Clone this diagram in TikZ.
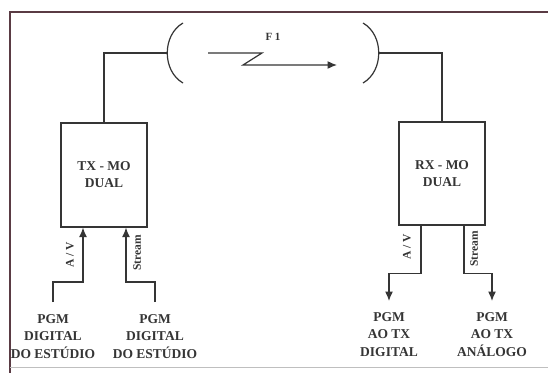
\documentclass[tikz,border=0pt]{standalone}
\usepackage{fontspec}
\setmainfont{Liberation Serif}
\usetikzlibrary{arrows.meta}
\definecolor{ink}{HTML}{353535}
\definecolor{framec}{HTML}{5A3B44}
\begin{document}
\begin{tikzpicture}[x=1pt,y=-1pt,
  line/.style={draw=ink,line width=1.2pt},
  arr/.style={line,-{Latex[length=9.5pt,width=8pt]}},
  unit/.style={draw=ink,line width=1.2pt,fill=white,font=\fontsize{13.5}{17}\selectfont\bfseries,text=ink,align=center,inner sep=0pt},
  lbl/.style={font=\fontsize{13.5}{17.5}\selectfont\bfseries,text=ink,align=center,inner sep=0pt},
  tag/.style={font=\fontsize{11.5}{13}\selectfont\bfseries,text=ink,rotate=90,inner sep=0pt},
]
\useasboundingbox[fill=white] (0,0) rectangle (548,373);
% frame
\draw[framec,line width=1.4pt] (548,12) -- (10,12) -- (10,373);
\draw[black!25,line width=0.8pt] (10,367) -- (548,367);

% units
\node[unit,minimum width=86pt,minimum height=104pt] (tx) at (104,175) {TX - MO\\DUAL};
\node[unit,minimum width=86pt,minimum height=103pt] (rx) at (442,173.5) {RX - MO\\DUAL};

% radio link brackets
\coordinate (lp) at (167.3,53);
\coordinate (rp) at (378.8,53);
\draw[line] (183,23) .. controls (162,35) and (162,71) .. (183,83);
\draw[line] (363,23) .. controls (384,35) and (384,71) .. (363,83);
\draw[line] (tx.north) |- (lp);
\draw[line] (rx.north) |- (rp);

% F1 link
\node[font=\fontsize{11}{13}\selectfont\bfseries,text=ink,inner sep=0pt] (f1) at (273,37) {F 1};
\coordinate (z0) at (208,53);
\coordinate (z1) at (337,65);
\draw[arr] (z0) -- (262,53) -- (243,65) -- (z1);

% sources
\node[lbl,anchor=north] (s1) at (53,314) {PGM\\DIGITAL\\DO ESTÚDIO};
\node[lbl,anchor=north] (s2) at (155,314) {PGM\\DIGITAL\\DO ESTÚDIO};
\draw[arr,shorten <=12pt] (s1.north) -- ++(0,-32) -| ([xshift=-21pt]tx.south);
\draw[arr,shorten <=12pt] (s2.north) -- ++(0,-32) -| ([xshift=22pt]tx.south);
\node[tag] (t1) at (70,255) {A / V};
\node[tag] (t2) at (137,253) {Stream};

% destinations
\node[lbl,anchor=north] (d1) at (389,312) {PGM\\AO TX\\DIGITAL};
\node[lbl,anchor=north] (d2) at (492,312) {PGM\\AO TX\\ANÁLOGO};
\draw[arr,shorten >=11pt] ([xshift=-21pt]rx.south) -- ++(0,48) -| (d1.north);
\draw[arr,shorten >=11pt] ([xshift=22pt]rx.south) -- ++(0,48) -| (d2.north);
\node[tag] (t3) at (407,247) {A / V};
\node[tag] (t4) at (474,249) {Stream};
\end{tikzpicture}
\end{document}
